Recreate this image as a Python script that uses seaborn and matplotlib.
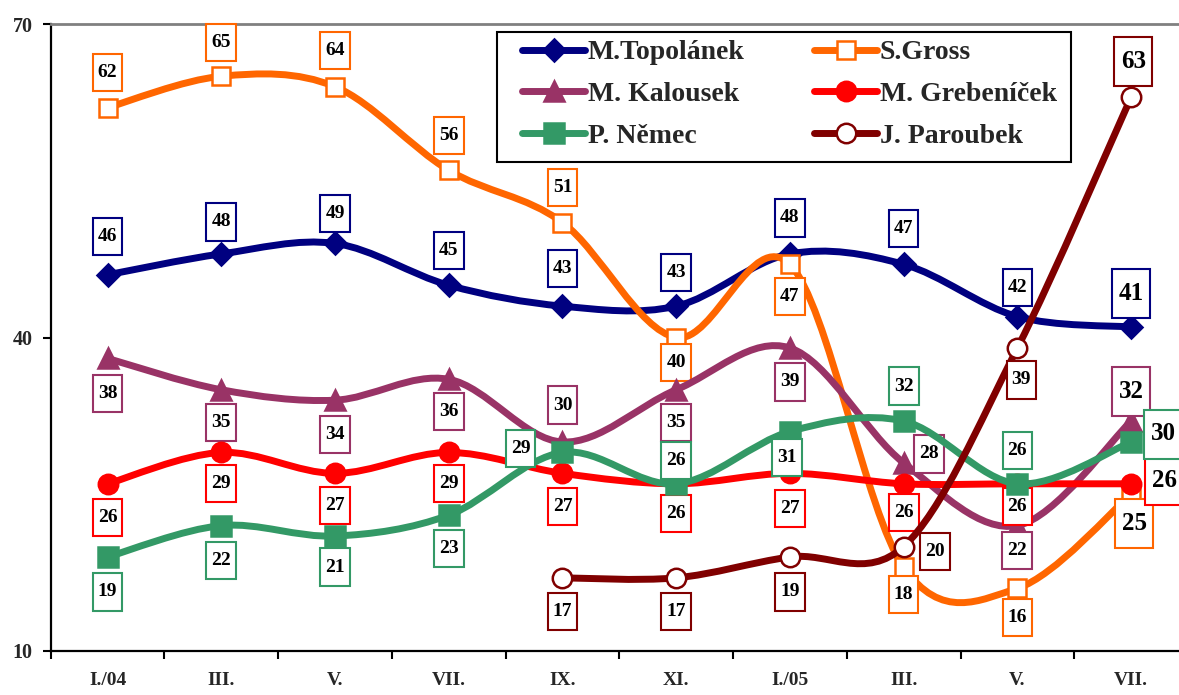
import numpy as np
import pandas as pd
import matplotlib
matplotlib.use('Agg')
import matplotlib.pyplot as plt
import seaborn as sns
from matplotlib.path import Path
from matplotlib.patches import PathPatch, Rectangle
from matplotlib.lines import Line2D

# data
months = ['I./04', 'III.', 'V.', 'VII.', 'IX.', 'XI.', 'I./05', 'III.', 'V.', 'VII.']
topolanek = [46, 48, 49, 45, 43, 43, 48, 47, 42, 41]
gross = [62, 65, 64, 56, 51, 40, 47, 18, 16, 25]
kalousek = [38, 35, 34, 36, 30, 35, 39, 28, 22, 32]
grebenicek = [26, 29, 27, 29, 27, 26, 27, 26, 26, 26]
nemec = [19, 22, 21, 23, 29, 26, 31, 32, 26, 30]
paroubek = [np.nan, np.nan, np.nan, np.nan, 17, 17, 19, 20, 39, 63]

names = ['M.Topolánek', 'S.Gross', 'M. Kalousek', 'M. Grebeníček', 'P. Němec', 'J. Paroubek']
values = [topolanek, gross, kalousek, grebenicek, nemec, paroubek]

# styles: color, marker, size, face
styles = [
    ('#000080', 'D', 11, '#000080'),
    ('#FF6600', 's', 13, 'white'),
    ('#993366', '^', 14, '#993366'),
    ('#FF0000', 'o', 14, '#FF0000'),
    ('#339966', 's', 15, '#339966'),
    ('#800000', 'o', 14, 'white'),
]

# label offsets from the point, in pixels (dx right, dy down)
label_offsets = [
    [(0, -38), (0, -32), (0, -30), (0, -35), (0, -38), (0, -34), (0, -36), (0, -36), (0, -29), (0, -34)],
    [(0, -35), (0, -34), (0, -36), (0, -35), (0, -35), (0, 25), (0, 32), (0, 27), (0, 29), (3, 29)],
    [(0, 35), (0, 33), (0, 34), (0, 32), (0, -37), (0, 33), (0, 34), (25, -9), (0, 25), (0, -30)],
    [(0, 34), (0, 31), (0, 32), (0, 31), (0, 33), (0, 30), (0, 35), (0, 29), (0, 23), (33, -3)],
    [(0, 35), (0, 35), (0, 31), (0, 33), (-42, -4), (0, -23), (-3, 26), (0, -35), (0, -33), (32, -8)],
    [None, None, None, None, (0, 34), (0, 34), (0, 35), (31, 5), (4, 32), (2, -36)],
]

PX = 72 / 100


def tall_box(x0, y0, width, height, mutation_size):
    px = 0.26 * mutation_size
    py = 0.52 * mutation_size
    x1, y1 = x0 + width + px, y0 + height + py
    x0, y0 = x0 - px, y0 - py
    return Path([(x0, y0), (x1, y0), (x1, y1), (x0, y1), (x0, y0)],
                [Path.MOVETO, Path.LINETO, Path.LINETO, Path.LINETO, Path.CLOSEPOLY])


def smooth_path(xs, ys):
    pts = [np.array([x, y], float) for x, y in zip(xs, ys) if not np.isnan(y)]
    n = len(pts)
    verts, codes = [pts[0]], [Path.MOVETO]
    for i in range(n - 1):
        p0 = pts[i - 1] if i > 0 else pts[i]
        p1, p2 = pts[i], pts[i + 1]
        p3 = pts[i + 2] if i + 2 < n else pts[i + 1]
        verts += [p1 + (p2 - p0) / 6, p2 - (p3 - p1) / 6, p2]
        codes += [Path.CURVE4] * 3
    return Path(verts, codes)


sns.set_style('white')
plt.rcParams['font.family'] = ['Liberation Serif', 'DejaVu Serif']
plt.rcParams['font.weight'] = 'bold'

fig = plt.figure(figsize=(11.79, 6.95), dpi=100)
ax = fig.add_axes([50.7 / 1179, 1 - 651 / 695, (1188 - 50.7) / 1179, (651 - 24) / 695])

xpos = np.arange(len(months))
for k, (name, vals, (color, mk, ms, face)) in enumerate(zip(names, values, styles)):
    vals = np.array(vals, float)
    z = 10 * k
    patch = PathPatch(smooth_path(xpos, vals), facecolor='none', edgecolor=color,
                      lw=5, capstyle='round', joinstyle='round', zorder=z + 1)
    ax.add_patch(patch)
    df = pd.DataFrame({'x': xpos, 'y': vals}).dropna()
    sns.lineplot(data=df, x='x', y='y', ax=ax, linestyle='none', marker=mk,
                 markersize=ms, markerfacecolor=face, markeredgecolor=color,
                 markeredgewidth=1.8, color=color, zorder=z + 2)
    for i, v in enumerate(vals):
        if np.isnan(v):
            continue
        dx, dy = label_offsets[k][i]
        fs = 18 if i == len(vals) - 1 else 14
        ax.annotate(f'{int(v)}', xy=(i, v), xytext=(dx * PX, -dy * PX),
                    textcoords='offset points', ha='center', va='center',
                    fontsize=fs, fontweight='bold', color='black',
                    bbox=dict(boxstyle=tall_box, fc='white', ec=color, lw=1.5),
                    zorder=z + 3, annotation_clip=False)

ax.set_xlim(-0.5, 9.5)
ax.set_ylim(10, 70)
ax.set_yticks([10, 40, 70])
ax.set_xticks(np.arange(-0.5, 10, 1))
ax.set_xticklabels([])
ax.set_xticks(xpos, minor=True)
ax.set_xticklabels(months, minor=True)
ax.set_xlabel('')
ax.set_ylabel('')
ax.tick_params(axis='x', which='major', direction='out', length=6, width=1.5, color='black', bottom=True)
ax.tick_params(axis='x', which='minor', length=0, pad=15, labelsize=14)
ax.tick_params(axis='y', direction='out', length=6, width=1.5, color='black', pad=7, labelsize=14.5, left=True)
for side in ['left', 'bottom']:
    ax.spines[side].set_color('black')
    ax.spines[side].set_linewidth(1.6)
ax.spines['top'].set_color('#808080')
ax.spines['top'].set_linewidth(2)
ax.spines['right'].set_visible(False)

# legend
fig.patches.append(Rectangle((497 / 1179, 1 - 162 / 695), (1071 - 497) / 1179, 130 / 695,
                             transform=fig.transFigure, fill=True, fc='white',
                             ec='black', lw=1.5, zorder=100))
handles = []
for name, (color, mk, ms, face) in zip(names, styles):
    handles.append(Line2D([], [], color=color, lw=5, solid_capstyle='round',
                          marker=mk, markersize=ms, markerfacecolor=face,
                          markeredgecolor=color, markeredgewidth=1.8, label=name))
# legend fills column by column, reference reads row by row
order = [0, 2, 4, 1, 3, 5]
leg = fig.legend(handles=[handles[i] for i in order], loc='upper left',
                 bbox_to_anchor=(522 / 1179, 1 - 40 / 695),
                 ncol=2, frameon=False, borderpad=0, borderaxespad=0,
                 handlelength=2.27, handletextpad=0.1, columnspacing=2.5,
                 labelspacing=0.58, prop={'family': 'Liberation Serif', 'weight': 'bold', 'size': 20})
leg.set_zorder(101)

fig.savefig('out.png', dpi=100)
